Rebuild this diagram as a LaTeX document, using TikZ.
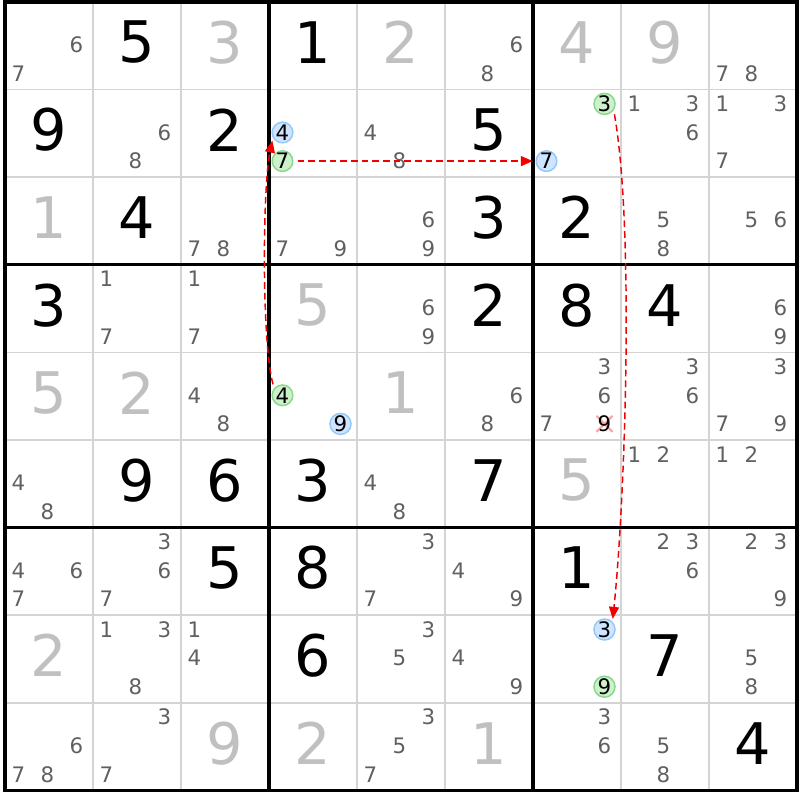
\documentclass[tikz,border=0pt]{standalone}
\usepackage{fontspec}
\setmainfont{DejaVu Sans}
\usetikzlibrary{arrows.meta}

\definecolor{givengray}{RGB}{192,192,192}
\definecolor{candgray}{RGB}{96,96,96}
\definecolor{thingrid}{RGB}{212,212,212}
\definecolor{offfill}{RGB}{207,229,255}
\definecolor{offline}{RGB}{150,200,245}
\definecolor{onfill}{RGB}{205,240,205}
\definecolor{online}{RGB}{140,215,140}
\definecolor{chainred}{RGB}{240,0,0}
\definecolor{crosspink}{RGB}{245,165,165}

% position of candidate #3 in row #1, column #2
\newcommand{\setcand}[3]{%
  \pgfmathsetmacro\px{5+(#2-1)*88+13.5+mod(#3-1,3)*29}%
  \pgfmathsetmacro\py{798-(#1-1)*87.6-14.3-floor((#3-1)/3)*28.6}}

\tikzset{
  thinline/.style={draw=thingrid, line width=1.2pt},
  boxline/.style={draw=black, line width=2.4pt},
  bigdigit/.style={font=\fontsize{43}{43}\selectfont, inner sep=0pt},
  solved/.style={bigdigit, text=black},
  given/.style={bigdigit, text=givengray},
  cand/.style={font=\fontsize{16}{16}\selectfont, inner sep=0pt, text=candgray},
  offcand/.style={circle, draw=offline, fill=offfill, line width=1.1pt,
    minimum size=15.4pt, inner sep=0pt, font=\fontsize{16}{16}\selectfont},
  oncand/.style={offcand, draw=online, fill=onfill},
  crossline/.style={draw=crosspink, line width=1.6pt},
  chainlink/.style={draw=chainred, line width=1.1pt, dash pattern=on 5pt off 3pt,
    -{Triangle[length=9pt,width=7.5pt]}, shorten <=3pt, shorten >=2pt}
}

\begin{document}
\begin{tikzpicture}[x=0.75pt,y=0.75pt]
    \useasboundingbox (0,0) rectangle (800,800);

    %draw thin cell lines
    \foreach \i in {1,2,4,5,7,8} {
      \draw[thinline] (5+88*\i,9.6) -- (5+88*\i,798);
      \draw[thinline] (5,798-87.6*\i) -- (797,798-87.6*\i);
    }

    %draw box lines
    \foreach \i in {3,6} {
      \draw[boxline] (5+88*\i,9.6) -- (5+88*\i,798);
      \draw[boxline] (5,798-87.6*\i) -- (797,798-87.6*\i);
    }
    \draw[boxline] (5,9.6) rectangle (797,798);

    %draw solved digits
    \foreach \r/\c/\d in {1/2/5,1/4/1,2/1/9,2/3/2,2/6/5,3/2/4,3/6/3,3/7/2,
      4/1/3,4/6/2,4/7/8,4/8/4,6/2/9,6/3/6,6/4/3,6/6/7,7/3/5,7/4/8,7/7/1,
      8/4/6,8/8/7,9/9/4}
    \node[solved] (d\r\c) at (49+88*\c-88,757.5-87.6*\r+87.6) {\d};

    %draw given digits
    \foreach \r/\c/\d in {1/3/3,1/5/2,1/7/4,1/8/9,3/1/1,4/4/5,5/1/5,5/2/2,
      5/5/1,6/7/5,8/1/2,9/3/9,9/4/2,9/6/1}
    \node[given] (d\r\c) at (49+88*\c-88,757.5-87.6*\r+87.6) {\d};

    %draw candidates
    \foreach \r/\c/\ds in {1/1/{6,7},1/6/{6,8},1/9/{7,8},
      2/2/{6,8},2/5/{4,8},2/8/{1,3,6},2/9/{1,3,7},
      3/3/{7,8},3/4/{7,9},3/5/{6,9},3/8/{5,8},3/9/{5,6},
      4/2/{1,7},4/3/{1,7},4/5/{6,9},4/9/{6,9},
      5/3/{4,8},5/6/{6,8},5/7/{3,6,7},5/8/{3,6},5/9/{3,7,9},
      6/1/{4,8},6/5/{4,8},6/8/{1,2},6/9/{1,2},
      7/1/{4,6,7},7/2/{3,6,7},7/5/{3,7},7/6/{4,9},7/8/{2,3,6},7/9/{2,3,9},
      8/2/{1,3,8},8/3/{1,4},8/5/{3,5},8/6/{4,9},8/9/{5,8},
      9/1/{6,7,8},9/2/{3,7},9/5/{3,5,7},9/7/{3,6},9/8/{5,8}}
    \foreach \d in \ds {
      \setcand{\r}{\c}{\d}
      \node[cand] (n\r\c\d) at (\px,\py) {\d};
    }

    %eliminated candidate
    \setcand{5}{7}{9}
    \draw[crossline] (\px-8,\py-8) -- (\px+8,\py+8) (\px-8,\py+8) -- (\px+8,\py-8);
    \node[cand, text=black] (n579) at (\px,\py) {9};

    %chain candidates
    \setcand{5}{4}{9} \node[offcand] (n549) at (\px,\py) {9};
    \setcand{5}{4}{4} \node[oncand] (n544) at (\px,\py) {4};
    \setcand{2}{4}{4} \node[offcand] (n244) at (\px,\py) {4};
    \setcand{2}{4}{7} \node[oncand] (n247) at (\px,\py) {7};
    \setcand{2}{7}{7} \node[offcand] (n277) at (\px,\py) {7};
    \setcand{2}{7}{3} \node[oncand] (n273) at (\px,\py) {3};
    \setcand{8}{7}{3} \node[offcand] (n873) at (\px,\py) {3};
    \setcand{8}{7}{9} \node[oncand] (n879) at (\px,\py) {9};

    %draw chain links
    \draw[chainlink] (n544.140) to[out=105,in=-102,looseness=0.5] (n244.210);
    \draw[chainlink] (n247) -- (n277);
    \draw[chainlink] (n273.-35) to[out=-80,in=84,looseness=0.6] (n873.45);

\end{tikzpicture}
\end{document}
